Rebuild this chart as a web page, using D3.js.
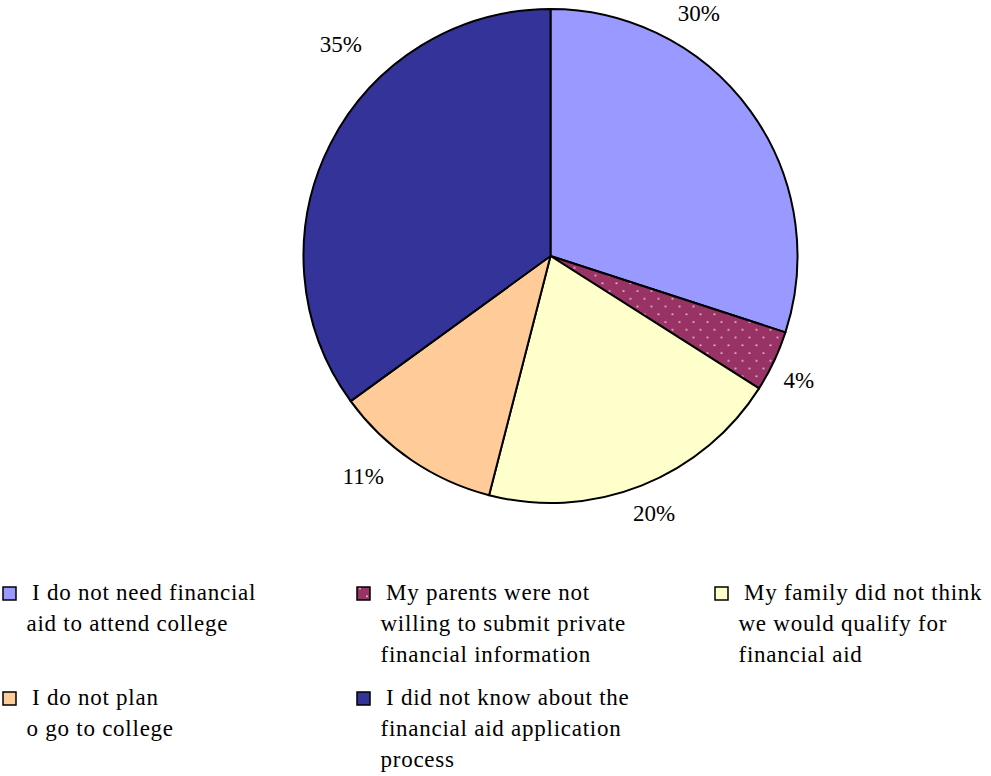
<!DOCTYPE html>
<html>
<head>
<meta charset="utf-8">
<script src="https://cdn.jsdelivr.net/npm/d3@7"></script>
<style>
  html, body { margin: 0; padding: 0; background: #fff; }
  svg { display: block; }
</style>
</head>
<body>
<svg id="chart" width="991" height="776" font-family="'Times New Roman', 'Liberation Serif', 'DejaVu Serif', serif"></svg>
<script>
// Reasons for not applying for financial aid (share of respondents, %)
const categories = [
  ["I do not need financial", "aid to attend college"],
  ["My parents were not", "willing to submit private", "financial information"],
  ["My family did not think", "we would qualify for", "financial aid"],
  ["I do not plan", "o go to college"],
  ["I did not know about the", "financial aid application", "process"]
];
const values = [30, 4, 20, 11, 35];
const valueLabels = ["30%", "4%", "20%", "11%", "35%"];
const colors = ["#9999FF", "#993366", "#FFFFCC", "#FFCC99", "#333399"];

// Label anchors around the pie: angle clockwise from 12 o'clock (deg), distance from centre (px)
const labelAnchor = [
  { angle: 31.5, dist: 284 },
  { angle: 116.7, dist: 278 },
  { angle: 158.1, dist: 278 },
  { angle: 220.4, dist: 289 },
  { angle: 315.3, dist: 298 }
];

const svg = d3.select("#chart");
const cx = 550.5, cy = 256, radius = 247;

// Dotted fill for the small maroon slice
const defs = svg.append("defs");
const pat = defs.append("pattern")
  .attr("id", "dots")
  .attr("patternUnits", "userSpaceOnUse")
  .attr("width", 14).attr("height", 15.5);
pat.append("rect").attr("width", 14).attr("height", 15.5).attr("fill", colors[1]);
pat.append("circle").attr("cx", 3).attr("cy", 4).attr("r", 0.9).attr("fill", "#f4dcea");
pat.append("circle").attr("cx", 10).attr("cy", 11.75).attr("r", 0.9).attr("fill", "#f4dcea");

const fillFor = i => i === 1 ? "url(#dots)" : colors[i];

const pie = d3.pie().sort(null).value(d => d)(values);
const arc = d3.arc().innerRadius(0).outerRadius(radius);

const g = svg.append("g").attr("transform", `translate(${cx},${cy})`);
g.selectAll("path.slice")
  .data(pie)
  .join("path")
  .attr("class", "slice")
  .attr("d", arc)
  .attr("fill", (d, i) => fillFor(i))
  .attr("stroke", "#000")
  .attr("stroke-width", 2)
  .attr("stroke-linejoin", "round");

// Percentage labels
g.selectAll("text.pct")
  .data(pie)
  .join("text")
  .attr("class", "pct")
  .attr("x", (d, i) => labelAnchor[i].dist * Math.sin(labelAnchor[i].angle * Math.PI / 180))
  .attr("y", (d, i) => -labelAnchor[i].dist * Math.cos(labelAnchor[i].angle * Math.PI / 180))
  .attr("text-anchor", "middle")
  .attr("dominant-baseline", "central")
  .attr("font-size", 23)
  .text((d, i) => valueLabels[i]);

// Legend: three columns, two rows
const colX = [3, 357, 715];
const rowY = [600, 705];
const lineH = 31;
const legend = svg.append("g");
const items = legend.selectAll("g.item")
  .data(categories)
  .join("g")
  .attr("class", "item")
  .attr("transform", (d, i) => `translate(${colX[i % 3]},${rowY[Math.floor(i / 3)]})`);

items.append("rect")
  .attr("x", 0).attr("y", -13)
  .attr("width", 13).attr("height", 13)
  .attr("fill", (d, i) => fillFor(i))
  .attr("stroke", "#000")
  .attr("stroke-width", 1.5);

items.each(function(lines) {
  const t = d3.select(this).append("text")
    .attr("font-size", 23)
    .attr("letter-spacing", 0.75);
  lines.forEach((ln, k) => {
    t.append("tspan")
      .attr("x", k === 0 ? 29 : 23.5)
      .attr("y", k * lineH)
      .text(ln);
  });
});
</script>
</body>
</html>
